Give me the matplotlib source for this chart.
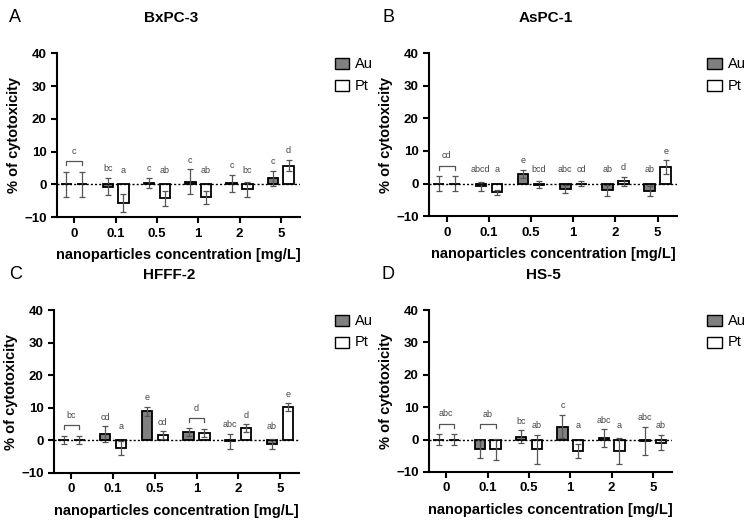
import numpy as np
import matplotlib
matplotlib.use("Agg")
import matplotlib.pyplot as plt

plt.rcParams['font.family'] = ['Liberation Sans', 'DejaVu Sans']

concentrations = ["0", "0.1", "0.5", "1", "2", "5"]

# BxPC-3
bx_au = [0.0, -0.7, 0.4, 0.8, 0.3, 1.8]
bx_au_err = [3.8, 2.6, 1.5, 3.8, 2.6, 2.3]
bx_pt = [0.0, -5.6, -4.3, -3.9, -1.5, 5.7]
bx_pt_err = [3.8, 2.7, 2.2, 2.0, 2.3, 1.7]
bx_au_lab = ["c", "bc", "c", "c", "c", "c"]
bx_pt_lab = ["", "a", "ab", "ab", "bc", "d"]

# AsPC-1
as_au = [0.0, -0.9, 3.0, -1.6, -2.1, -2.3]
as_au_err = [2.3, 1.3, 1.3, 1.3, 1.8, 1.5]
as_pt = [0.0, -2.7, -0.4, 0.0, 0.7, 5.0]
as_pt_err = [2.3, 0.8, 1.1, 0.9, 1.4, 2.1]
as_au_lab = ["cd", "abcd", "e", "abc", "ab", "ab"]
as_pt_lab = ["", "a", "bcd", "cd", "d", "e"]

# HFFF-2
hf_au = [0.0, 1.9, 8.9, 2.5, -0.2, -1.2]
hf_au_err = [1.2, 2.4, 1.4, 1.2, 2.3, 1.6]
hf_pt = [0.0, -2.3, 1.6, 2.3, 3.8, 10.2]
hf_pt_err = [1.2, 2.2, 1.2, 1.3, 1.1, 1.2]
hf_au_lab = ["bc", "cd", "e", "d", "abc", "ab"]
hf_pt_lab = ["", "a", "cd", "", "d", "e"]

# HS-5
hs_au = [0.0, -3.0, 0.8, 4.0, 0.5, -0.4]
hs_au_err = [1.7, 2.7, 2.0, 3.6, 2.7, 4.3]
hs_pt = [0.0, -3.0, -3.0, -3.6, -3.5, -1.0]
hs_pt_err = [1.7, 3.2, 4.5, 2.1, 4.0, 2.3]
hs_au_lab = ["abc", "ab", "bc", "c", "abc", "abc"]
hs_pt_lab = ["", "", "ab", "a", "a", "ab"]

panels = [
    ("A", "BxPC-3", bx_au, bx_au_err, bx_pt, bx_pt_err, bx_au_lab, bx_pt_lab, [0]),
    ("B", "AsPC-1", as_au, as_au_err, as_pt, as_pt_err, as_au_lab, as_pt_lab, [0]),
    ("C", "HFFF-2", hf_au, hf_au_err, hf_pt, hf_pt_err, hf_au_lab, hf_pt_lab, [0, 3]),
    ("D", "HS-5", hs_au, hs_au_err, hs_pt, hs_pt_err, hs_au_lab, hs_pt_lab, [0, 1]),
]

rects = [
    [0.0756, 0.584, 0.322, 0.314],
    [0.569, 0.586, 0.329, 0.312],
    [0.0716, 0.094, 0.325, 0.312],
    [0.569, 0.096, 0.322, 0.310],
]
legend_x = [0.444, 0.938, 0.444, 0.938]
letter_x = [0.02, 0.515, 0.02, 0.515]

fig = plt.figure(figsize=(7.54, 5.22), dpi=100)
x = np.arange(len(concentrations))
off = 0.19
w = 0.25
errc = "#555555"

for (letter, title, au, au_e, pt, pt_e, au_l, pt_l, brackets), r, lx, tx in zip(
        panels, rects, legend_x, letter_x):
    ax = fig.add_axes(r)
    ax.bar(x - off, au, w, color="#808080", edgecolor="black", linewidth=1.3, zorder=2)
    ax.bar(x + off, pt, w, color="white", edgecolor="black", linewidth=1.3, zorder=2)
    ax.errorbar(x - off, au, yerr=au_e, fmt="none", ecolor=errc, elinewidth=0.9,
                capsize=2.5, capthick=0.9, zorder=3)
    ax.errorbar(x + off, pt, yerr=pt_e, fmt="none", ecolor=errc, elinewidth=0.9,
                capsize=2.5, capthick=0.9, zorder=3)
    ax.axhline(0, color="black", linestyle=(0, (1.5, 1.5)), linewidth=1.0, zorder=4)

    for i in range(len(x)):
        top_au = max(au[i] + au_e[i], 1.5)
        top_pt = max(pt[i] + pt_e[i], 1.5)
        if i in brackets:
            yb = max(top_au, top_pt) + 3.2
            ax.plot([x[i] - off, x[i] - off, x[i] + off, x[i] + off],
                    [yb - 1.2, yb, yb, yb - 1.2], color=errc, linewidth=0.9)
            ax.text(x[i], yb + 3.0, au_l[i], ha="center", va="center",
                    fontsize=6.5, color="#444444")
        else:
            if au_l[i]:
                ax.text(x[i] - off, top_au + 2.8, au_l[i], ha="center", va="center",
                        fontsize=6.5, color="#444444")
            if pt_l[i]:
                ax.text(x[i] + off, top_pt + 2.8, pt_l[i], ha="center", va="center",
                        fontsize=6.5, color="#444444")

    ax.set_xlim(-0.42, 5.46)
    ax.set_ylim(-10, 40)
    ax.set_yticks([-10, 0, 10, 20, 30, 40])
    ax.set_xticks(x)
    ax.set_xticklabels(concentrations)
    for s in ["top", "right"]:
        ax.spines[s].set_visible(False)
    for s in ["left", "bottom"]:
        ax.spines[s].set_linewidth(1.5)
    ax.tick_params(width=1.5, length=4, labelsize=9.5)
    for lab in ax.get_xticklabels() + ax.get_yticklabels():
        lab.set_fontweight("bold")
    ax.set_ylabel("% of cytotoxicity", fontsize=10.5, fontweight="bold", labelpad=2)
    ax.set_xlabel("nanoparticles concentration [mg/L]", fontsize=10.5,
                  fontweight="bold", labelpad=6)

    # title and panel letter, in figure coordinates
    fx = r[0] + r[2] / 2 - 0.01
    ty = r[1] + r[3] + 0.068
    fig.text(fx, ty, title, ha="center", va="center", fontsize=11, fontweight="bold")
    fig.text(tx, ty, letter, ha="center", va="center", fontsize=13)

    # legend
    ly = r[1] + r[3] - 0.02
    for k, (name, fc) in enumerate([("Au", "#808080"), ("Pt", "white")]):
        yy = ly - k * 0.042
        fig.patches.append(plt.Rectangle((lx, yy - 0.011), 0.019, 0.022, facecolor=fc,
                                         edgecolor="black", linewidth=1.0,
                                         transform=fig.transFigure, figure=fig))
        fig.text(lx + 0.027, yy, name, ha="left", va="center", fontsize=10.5)

fig.savefig("out.png", dpi=100)
